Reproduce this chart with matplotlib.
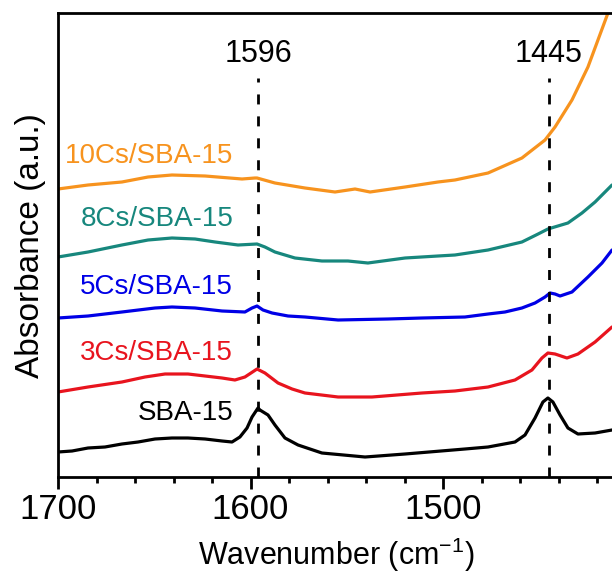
import matplotlib
matplotlib.use("Agg")
import matplotlib.pyplot as plt
from matplotlib.ticker import MultipleLocator

plt.rcParams['font.family'] = ['Liberation Sans', 'DejaVu Sans']
plt.rcParams['mathtext.fontset'] = 'custom'
plt.rcParams['mathtext.rm'] = 'Liberation Sans'

# ---- data (wavenumber in cm-1, absorbance in arbitrary offset units) ----
wn_10 = [1700, 1684.4, 1666.8, 1653.2, 1640.8, 1623.6, 1604.4, 1597.7, 1596.6,
         1587.3, 1571.7, 1556.1, 1545.7, 1537.9, 1519.7, 1502.6, 1493.8, 1476.6,
         1459.0, 1447.0, 1441.8, 1433.0, 1424.7, 1419.5, 1414.3, 1411.0]
ab_10 = [3.05, 3.09, 3.12, 3.17, 3.19, 3.18, 3.15, 3.16, 3.16,
         3.11, 3.06, 3.02, 3.05, 3.02, 3.07, 3.12, 3.14, 3.21,
         3.36, 3.54, 3.67, 3.94, 4.27, 4.54, 4.81, 5.00]

wn_8 = [1700, 1684.4, 1666.8, 1653.2, 1640.8, 1628.8, 1618.4, 1606.5, 1596.6,
        1592.5, 1587.3, 1576.9, 1562.9, 1549.4, 1539.0, 1519.7, 1502.6, 1493.8,
        1476.6, 1459.0, 1450.6, 1445.5, 1435.1, 1427.8, 1421.0, 1412.2]
ab_8 = [2.37, 2.42, 2.49, 2.54, 2.56, 2.55, 2.52, 2.49, 2.50,
        2.47, 2.42, 2.36, 2.33, 2.33, 2.31, 2.36, 2.38, 2.39,
        2.44, 2.52, 2.60, 2.65, 2.71, 2.81, 2.92, 3.09]

wn_5 = [1700, 1684.4, 1666.8, 1649.6, 1640.8, 1628.8, 1614.8, 1602.9, 1599.2,
        1596.6, 1593.5, 1588.8, 1580.5, 1571.7, 1554.5, 1528.6, 1510.9, 1488.6,
        1476.6, 1467.8, 1459.0, 1452.2, 1447.0, 1444.4, 1441.8, 1439.2, 1433.0,
        1424.7, 1417.4, 1412.2]
ab_5 = [1.76, 1.78, 1.82, 1.86, 1.87, 1.86, 1.83, 1.82, 1.86,
        1.88, 1.84, 1.81, 1.78, 1.77, 1.74, 1.75, 1.76, 1.77,
        1.80, 1.82, 1.86, 1.91, 1.97, 2.01, 2.00, 1.98, 2.02,
        2.17, 2.31, 2.44]

wn_3 = [1700, 1684.4, 1666.8, 1654.8, 1644.4, 1632.5, 1623.6, 1614.8, 1608.1,
        1602.9, 1596.6, 1592.5, 1585.7, 1578.4, 1571.7, 1554.5, 1536.9, 1510.9,
        1493.8, 1476.6, 1462.6, 1453.8, 1448.6, 1445.5, 1441.8, 1435.6, 1429.9,
        1421.0, 1412.2]
ab_3 = [1.02, 1.07, 1.12, 1.17, 1.20, 1.20, 1.18, 1.16, 1.14,
        1.17, 1.25, 1.21, 1.11, 1.05, 1.01, 0.97, 0.97, 1.01,
        1.03, 1.07, 1.14, 1.24, 1.36, 1.41, 1.40, 1.36, 1.40,
        1.52, 1.67]

wn_0 = [1700, 1692.7, 1684.4, 1675.6, 1666.8, 1658.4, 1649.6, 1640.8, 1632.5,
        1623.6, 1614.8, 1609.6, 1605.5, 1601.8, 1599.2, 1596.1, 1595.1, 1590.9,
        1587.3, 1582.1, 1575.3, 1562.9, 1540.5, 1519.7, 1488.6, 1476.6, 1462.6,
        1457.4, 1452.2, 1448.1, 1445.5, 1442.9, 1439.2, 1435.1, 1429.9, 1421.0,
        1412.2]
ab_0 = [0.42, 0.43, 0.46, 0.47, 0.50, 0.52, 0.55, 0.56, 0.56,
        0.55, 0.53, 0.52, 0.57, 0.66, 0.77, 0.86, 0.84, 0.79,
        0.69, 0.56, 0.49, 0.41, 0.37, 0.40, 0.45, 0.47, 0.52,
        0.59, 0.76, 0.92, 0.96, 0.92, 0.79, 0.66, 0.60, 0.61,
        0.64]

series_names = ['10Cs/SBA-15', '8Cs/SBA-15', '5Cs/SBA-15', '3Cs/SBA-15', 'SBA-15']
series_colors = ['#F7931E', '#17877D', '#0000E6', '#E8141E', '#000000']
label_y = [3.38, 2.75, 2.07, 1.41, 0.81]

peak_positions = [1596, 1445]
peak_labels = ['1596', '1445']

x_ticks = [1700, 1600, 1500]

# ---- figure ----
fig = plt.figure(figsize=(6.12, 5.73), dpi=100)
ax = fig.add_axes([58 / 612, 96 / 573, 577.5 / 612, 464 / 573])

xs = [wn_10, wn_8, wn_5, wn_3, wn_0]
ys = [ab_10, ab_8, ab_5, ab_3, ab_0]
for x, y, c in zip(xs, ys, series_colors):
    ax.plot(x, y, color=c, lw=2.3, solid_joinstyle='round',
            solid_capstyle='round')

for name, c, ly in zip(series_names, series_colors, label_y):
    ax.text(1609, ly, name, color=c, fontsize=20, ha='right', va='center')

for p, lab in zip(peak_positions, peak_labels):
    ax.plot([p, p], [0.17, 4.16], color='black', lw=2.0,
            linestyle=(0, (3.6, 4.3)))
    ax.text(p, 4.40, lab, fontsize=22, ha='center', va='center')

ax.set_xlim(1700, 1400)
ax.set_ylim(0.17, 4.81)
ax.set_xticks(x_ticks)
ax.xaxis.set_minor_locator(MultipleLocator(20))
ax.set_yticks([])
ax.tick_params(axis='x', which='major', direction='out', length=8.5, width=2,
               labelsize=25, pad=3)
ax.tick_params(axis='x', which='minor', direction='out', length=4.5, width=2)
for s in ax.spines.values():
    s.set_linewidth(2)

fig.text(31 / 612, 1 - 246 / 573, 'Absorbance (a.u.)', rotation=90,
         fontsize=24, ha='center', va='center')
fig.text(336 / 612, 1 - 555 / 573, 'Wavenumber (cm$^{-1}$)', fontsize=22,
         ha='center', va='center')

fig.savefig('out.png', dpi=100)
